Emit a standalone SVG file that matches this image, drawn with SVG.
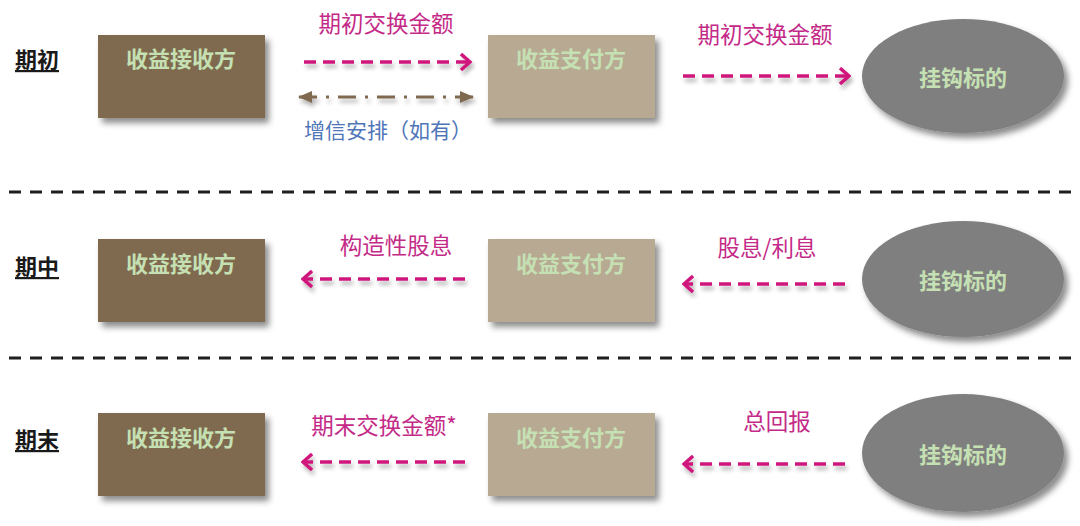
<svg xmlns="http://www.w3.org/2000/svg" width="1080" height="526" viewBox="0 0 1080 526">
<defs>
<filter id="sh" x="-20%" y="-20%" width="150%" height="160%">
<feDropShadow dx="4" dy="5" stdDeviation="3" flood-color="#000" flood-opacity="0.45"/>
</filter>
<filter id="lsh" filterUnits="userSpaceOnUse" x="0" y="0" width="1080" height="526">
<feDropShadow dx="2" dy="4" stdDeviation="2" flood-color="#000" flood-opacity="0.3"/>
</filter>
<marker id="chev" viewBox="0 0 12 20" refX="10" refY="10" markerWidth="12" markerHeight="20" markerUnits="userSpaceOnUse" orient="auto-start-reverse">
<polyline points="1,2 10,10 1,18" fill="none" stroke="#d0177d" stroke-width="3.4"/>
</marker>
<marker id="tri" viewBox="0 0 14 12" refX="13" refY="6" markerWidth="14" markerHeight="12" markerUnits="userSpaceOnUse" orient="auto-start-reverse">
<path d="M0,0 L14,6 L0,12 Z" fill="#7f6a50"/>
</marker>
</defs>
<style>
.lbl{font-family:"Noto Sans CJK SC","Noto Sans",sans-serif;font-weight:bold;font-size:22px;fill:#1a1a1a;text-decoration:underline}
.bt{font-family:"Noto Sans CJK SC","Noto Sans",sans-serif;font-weight:bold;font-size:22px;fill:#c5e0b3;text-anchor:middle;dominant-baseline:central}
.recv{fill:#7f6a50;filter:url(#sh)}
.pay{fill:#b8a993;filter:url(#sh)}
.und{fill:#7f7f7f;filter:url(#sh)}
.pk{fill:none;stroke:#d0177d;stroke-width:3.5;stroke-dasharray:12 7;filter:url(#lsh)}
.pt{font-family:"Noto Sans CJK SC","Noto Sans",sans-serif;font-size:22.5px;fill:#c42a87;text-anchor:middle;dominant-baseline:central}
.bl{font-family:"Noto Sans CJK SC","Noto Sans",sans-serif;font-size:21px;fill:#4f76b8;text-anchor:middle;dominant-baseline:central}
.sep{fill:none;stroke:#1f1f1f;stroke-width:3;stroke-dasharray:12 9}
</style>

<g id="labels">
<text class="lbl" x="15" y="68">期初</text>
<text class="lbl" x="15" y="275">期中</text>
<text class="lbl" x="15" y="448">期末</text>
</g>

<g id="separators">
<line class="sep" x1="9" y1="192" x2="1075" y2="192"/>
<line class="sep" x1="9" y1="358" x2="1075" y2="358"/>
</g>

<g id="r1-receiver"><rect class="recv" x="98" y="35" width="167" height="83"/><text class="bt" x="181" y="57">收益接收方</text></g>
<g id="r1-payer"><rect class="pay" x="488" y="35" width="167" height="83"/><text class="bt" x="571" y="57">收益支付方</text></g>
<g id="r1-underlying"><ellipse class="und" cx="963" cy="76" rx="101" ry="57"/><text class="bt" x="963" y="76">挂钩标的</text></g>

<g id="r2-receiver"><rect class="recv" x="98" y="239" width="167" height="83"/><text class="bt" x="181" y="262">收益接收方</text></g>
<g id="r2-payer"><rect class="pay" x="488" y="239" width="167" height="83"/><text class="bt" x="571" y="262">收益支付方</text></g>
<g id="r2-underlying"><ellipse class="und" cx="963" cy="279" rx="101" ry="58"/><text class="bt" x="963" y="279">挂钩标的</text></g>

<g id="r3-receiver"><rect class="recv" x="98" y="413" width="167" height="83"/><text class="bt" x="181" y="436">收益接收方</text></g>
<g id="r3-payer"><rect class="pay" x="488" y="413" width="167" height="83"/><text class="bt" x="571" y="436">收益支付方</text></g>
<g id="r3-underlying"><ellipse class="und" cx="963" cy="453" rx="101" ry="59"/><text class="bt" x="963" y="453">挂钩标的</text></g>

<g id="connectors">
<line class="pk" x1="304" y1="62" x2="470" y2="62" marker-end="url(#chev)"/>
<line x1="299" y1="97" x2="473" y2="97" stroke="#7f6a50" stroke-width="3" stroke-dasharray="18 9 3 9" filter="url(#lsh)" marker-start="url(#tri)" marker-end="url(#tri)"/>
<line class="pk" x1="683" y1="76" x2="849" y2="76" marker-end="url(#chev)"/>
<line class="pk" x1="465" y1="279" x2="303" y2="279" marker-end="url(#chev)"/>
<line class="pk" x1="845" y1="284" x2="684" y2="284" marker-end="url(#chev)"/>
<line class="pk" x1="465" y1="462" x2="303" y2="462" marker-end="url(#chev)"/>
<line class="pk" x1="845" y1="464" x2="684" y2="464" marker-end="url(#chev)"/>
</g>

<g id="connector-labels">
<text class="pt" x="386" y="22">期初交换金额</text>
<text class="bl" x="388" y="129">增信安排（如有）</text>
<text class="pt" x="765" y="33">期初交换金额</text>
<text class="pt" x="396" y="244">构造性股息</text>
<text class="pt" x="767" y="246">股息/利息</text>
<text class="pt" x="384" y="424">期末交换金额*</text>
<text class="pt" x="777" y="420">总回报</text>
</g>
</svg>
